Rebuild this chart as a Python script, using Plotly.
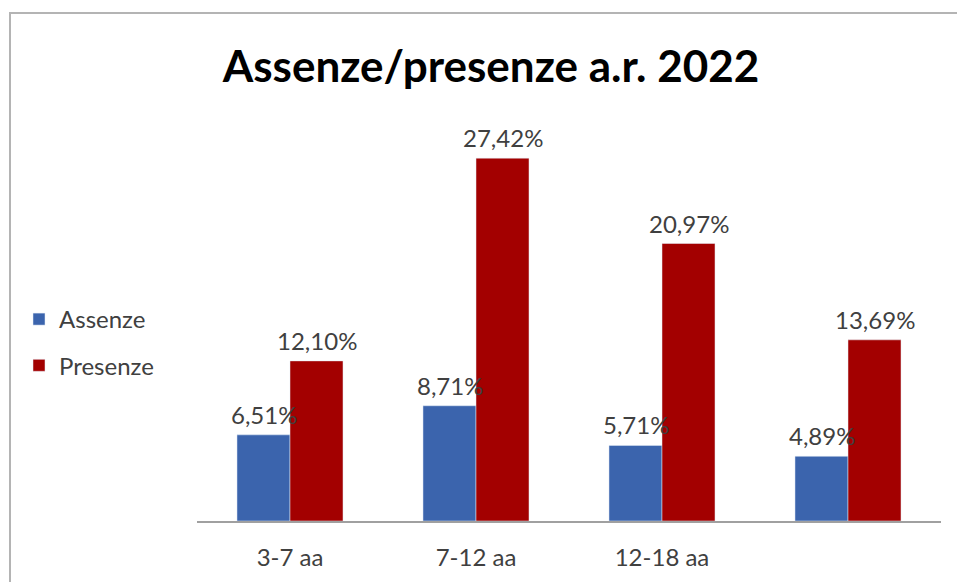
import plotly.graph_objects as go

categories = ["3-7 aa", "7-12 aa", "12-18 aa", " "]
assenze = [6.51, 8.71, 5.71, 4.89]
presenze = [12.10, 27.42, 20.97, 13.69]
assenze_labels = ["6,51%", "8,71%", "5,71%", "4,89%"]
presenze_labels = ["12,10%", "27,42%", "20,97%", "13,69%"]

BLUE = "#3B64AD"
RED = "#A30000"
TXT = "#404040"
FONT = "Lato, Liberation Sans, sans-serif"

W, H = 957, 582
ML, MR, MT, MB = 197, 16, 124, 61
pw, ph = W - ML - MR, H - MT - MB

fig = go.Figure()
fig.add_trace(go.Bar(x=categories, y=assenze, name="Assenze", marker_color=BLUE,
                     legendgroup="a"))
fig.add_trace(go.Bar(x=categories, y=presenze, name="Presenze", marker_color=RED,
                     legendgroup="p"))

annotations = []
for c, v, t in zip(categories, assenze, assenze_labels):
    annotations.append(dict(x=c, y=v, text=t, showarrow=False, xshift=-26, yshift=4,
                            yanchor="bottom", font=dict(family=FONT, size=24, color=TXT)))
for c, v, t in zip(categories, presenze, presenze_labels):
    annotations.append(dict(x=c, y=v, text=t, showarrow=False, xshift=27, yshift=4,
                            yanchor="bottom", font=dict(family=FONT, size=24, color=TXT)))

def px_x(p):
    return (p - ML) / pw

def px_y(p):
    return 1 - (p - MT) / ph

fig.update_layout(
    width=W, height=H,
    margin=dict(l=ML, r=MR, t=MT, b=MB, autoexpand=False),
    paper_bgcolor="white", plot_bgcolor="white",
    barmode="group", bargap=0.43, bargroupgap=0,
    title=dict(text="<b>Assenze/presenze a.r. 2022</b>", x=(222 + 760) / 2 / W, xanchor="center",
               y=1 - 67 / H, yanchor="middle",
               font=dict(family=FONT, size=44, color="black")),
    xaxis=dict(showgrid=False, showline=True, linecolor="#A0A0A0", linewidth=1.5,
               ticks="", tickfont=dict(family=FONT, size=24, color=TXT),
               ticklabelstandoff=14, automargin=False),
    yaxis=dict(range=[0, 30], visible=False, automargin=False),
    showlegend=True,
    legend=dict(xref="container", yref="container", x=19 / W, xanchor="left",
                y=1 - 297 / H, yanchor="top",
                traceorder="grouped", tracegroupgap=12,
                font=dict(family=FONT, size=24, color=TXT), bgcolor="rgba(0,0,0,0)"),
    annotations=annotations,
    shapes=[dict(type="rect", xref="paper", yref="paper",
                 x0=px_x(10), x1=px_x(975), y0=px_y(600), y1=px_y(13),
                 line=dict(color="#B4B4B4", width=2), layer="below")],
)

fig.write_html("out.html", config={"displayModeBar": False},
               post_script="document.body.style.margin='0';")
